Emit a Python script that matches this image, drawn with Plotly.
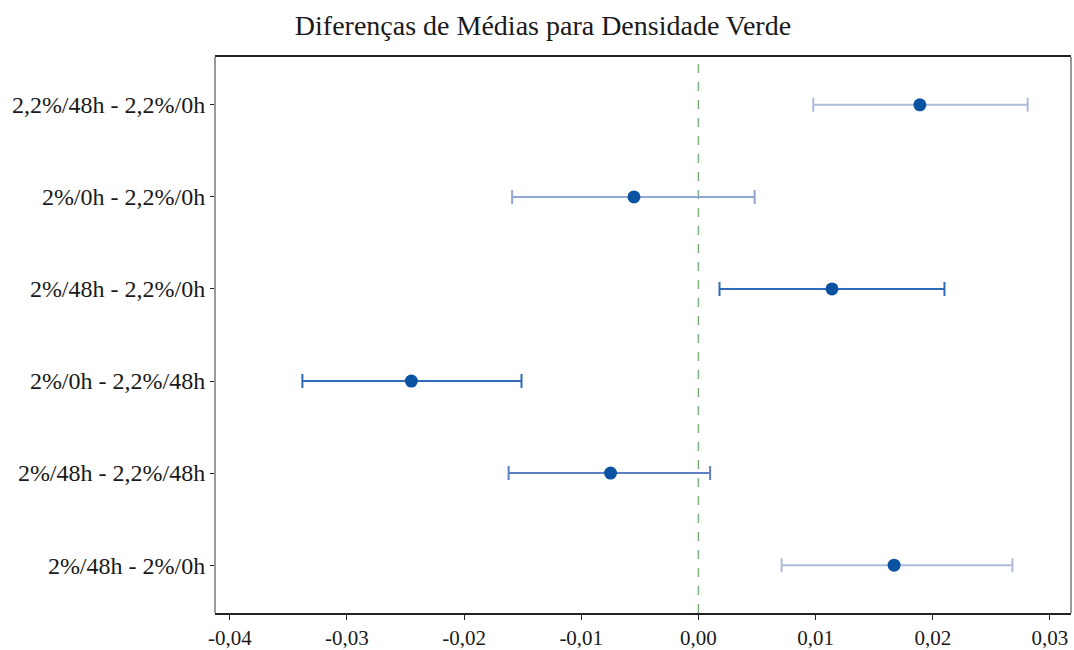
import plotly.graph_objects as go

# Tukey simultaneous confidence intervals for differences of means
comparisons = [
    "2,2%/48h - 2,2%/0h",
    "2%/0h - 2,2%/0h",
    "2%/48h - 2,2%/0h",
    "2%/0h - 2,2%/48h",
    "2%/48h - 2,2%/48h",
    "2%/48h - 2%/0h",
]
diff_mean = [0.0189, -0.0055, 0.0114, -0.0245, -0.0075, 0.0167]
lower_ci = [0.0098, -0.0159, 0.0018, -0.0338, -0.0162, 0.0071]
upper_ci = [0.0281, 0.0048, 0.0210, -0.0151, 0.0010, 0.0268]
bar_colors = ["#aebbdb", "#93a5d2", "#2f6ab6", "#2f6ab6", "#5f7fc3", "#aebbdb"]

x_ticks = [-0.04, -0.03, -0.02, -0.01, 0.0, 0.01, 0.02, 0.03]
x_tick_text = ["-0,04", "-0,03", "-0,02", "-0,01", "0,00", "0,01", "0,02", "0,03"]

fig = go.Figure()

n = len(comparisons)
for i, (lab, m, lo, hi, c) in enumerate(zip(comparisons, diff_mean, lower_ci, upper_ci, bar_colors)):
    fig.add_trace(go.Scatter(
        x=[m], y=[n - i],
        mode="markers",
        marker=dict(color="#0b52a3", size=13),
        error_x=dict(type="data", symmetric=False,
                     array=[hi - m], arrayminus=[m - lo],
                     color=c, thickness=2, width=7),
        showlegend=False,
        hoverinfo="skip",
    ))

# reference line at zero difference
fig.add_shape(type="line", x0=0, x1=0, y0=0, y1=1, xref="x", yref="paper",
              line=dict(color="#7fae82", width=1.5, dash="dash"), layer="below")

fig.update_xaxes(
    range=[-0.04126, 0.0318],
    tickvals=x_ticks, ticktext=x_tick_text,
    ticks="outside", ticklen=5, tickcolor="#222",
    showline=True, linecolor="#222", linewidth=1.5, mirror=True,
    showgrid=False, zeroline=False, automargin=False,
    tickfont=dict(family="Liberation Serif", size=21, color="#1a1a1a"),
)
fig.update_yaxes(
    range=[0.48, 6.52],
    tickvals=list(range(n, 0, -1)), ticktext=comparisons,
    ticks="outside", ticklen=4, tickcolor="#222",
    showline=False, automargin=False,
    showgrid=False, zeroline=False,
    tickfont=dict(family="Liberation Serif", size=24, color="#1a1a1a"),
)

# grey side borders of the plot frame
fig.add_shape(type="line", x0=0, x1=0, y0=0, y1=1, xref="paper", yref="paper",
              line=dict(color="#9a9a9a", width=2))
fig.add_shape(type="line", x0=1, x1=1, y0=0, y1=1, xref="paper", yref="paper",
              line=dict(color="#9a9a9a", width=2))

fig.update_layout(
    width=1074, height=650,
    margin=dict(l=215, r=3, t=57, b=37),
    paper_bgcolor="white", plot_bgcolor="white",
    title=dict(text="Diferenças de Médias para Densidade Verde",
               x=543 / 1074, xref="container", xanchor="center",
               y=1 - 25 / 650, yref="container", yanchor="middle",
               font=dict(family="Liberation Serif", size=28, color="#1a1a1a")),
)

fig.write_html("out.html")
